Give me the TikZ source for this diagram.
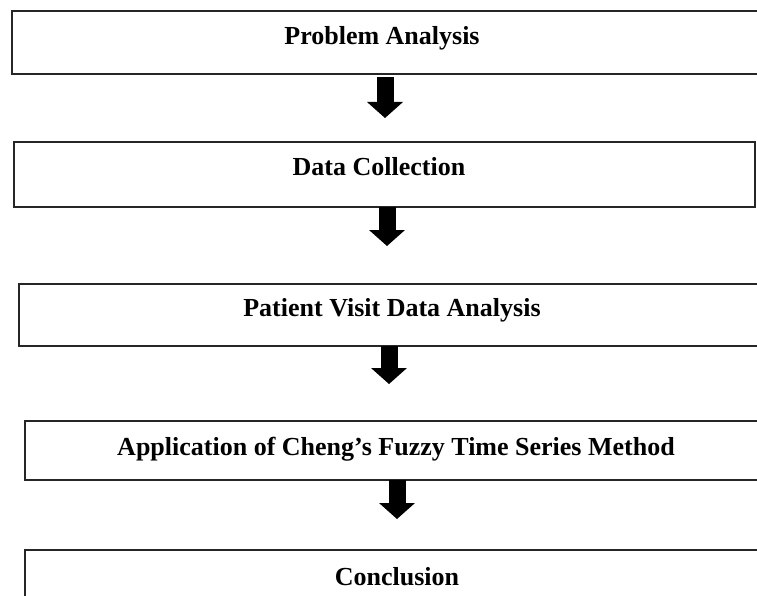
\documentclass[tikz,border=0pt]{standalone}
\usepackage{fontspec}
\setmainfont{Liberation Serif}
\usetikzlibrary{arrows.meta}
\begin{document}
\begin{tikzpicture}[x=1pt,y=-1pt,
  stage/.style={draw=black!85,line width=1.6pt,fill=none},
  label/.style={anchor=base,inner sep=0pt,font=\fontsize{26}{30}\selectfont\bfseries},
  flow/.style={line width=17pt,black,
    -{Triangle[width=36pt,length=16pt,line width=0pt]}}]
  \useasboundingbox (0,0) rectangle (757,596);
  \clip (0,0) rectangle (757,596);
  % stage frames (several run past the right edge)
  \draw[stage] (12,11) rectangle (790,74);
  \draw[stage] (14,142) rectangle (755,207);
  \draw[stage] (19,284) rectangle (790,346);
  \draw[stage] (25,421) rectangle (790,480);
  \draw[stage] (25,550) rectangle (790,640);
  % stage titles
  \node[label] (t1) at (382,45) {Problem Analysis};
  \node[label] (t2) at (379,176) {Data Collection};
  \node[label] (t3) at (392,316) {Patient Visit Data Analysis};
  \node[label] (t4) at (396,455) {Application of Cheng’s Fuzzy Time Series Method};
  \node[label] (t5) at (397,585) {Conclusion};
  % arrow ends
  \coordinate (a1) at (385,77);  \coordinate (b1) at (385,118);
  \coordinate (a2) at (387,207); \coordinate (b2) at (387,246);
  \coordinate (a3) at (389,346); \coordinate (b3) at (389,384);
  \coordinate (a4) at (397,480); \coordinate (b4) at (397,519);
  \draw[flow] (a1) -- (b1);
  \draw[flow] (a2) -- (b2);
  \draw[flow] (a3) -- (b3);
  \draw[flow] (a4) -- (b4);
\end{tikzpicture}
\end{document}
